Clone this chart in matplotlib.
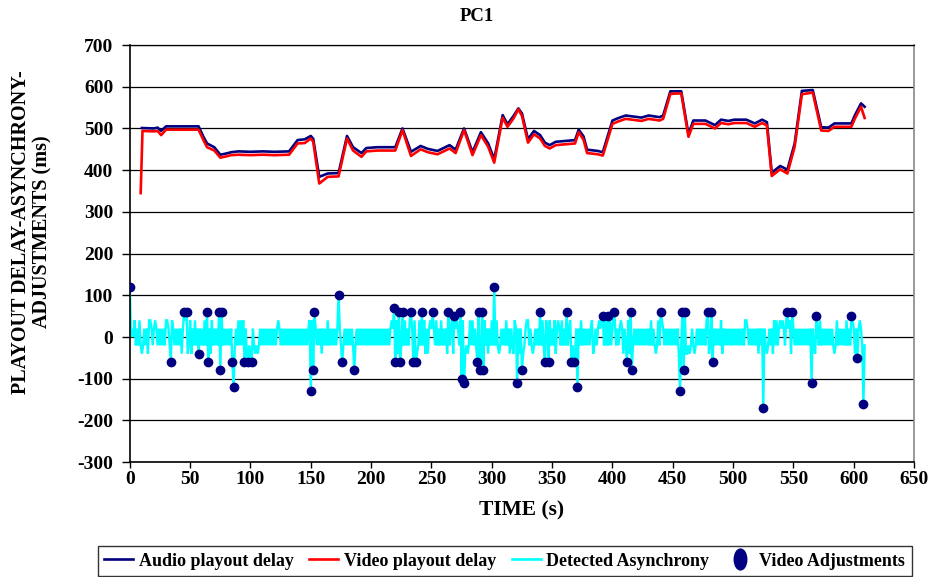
import numpy as np
import matplotlib
matplotlib.use("Agg")
import matplotlib.pyplot as plt
from matplotlib.lines import Line2D
from matplotlib.path import Path
from matplotlib.transforms import Affine2D

plt.rcParams['font.family'] = ['Liberation Serif', 'DejaVu Serif']
plt.rcParams['font.weight'] = 'bold'
plt.rcParams['axes.labelweight'] = 'bold'
plt.rcParams['axes.unicode_minus'] = False

# playout delay of the audio stream (s, ms)
audio_t = [10, 20, 23, 26, 30, 57, 61, 64, 70, 75, 80, 84, 90, 100, 110, 120, 132,
           139, 145, 150, 152, 157, 164, 173, 180, 185, 192, 196, 205, 220, 226, 233,
           241, 247, 255, 265, 270, 277, 284, 291, 297, 302, 309, 313, 318, 322, 325,
           330, 335, 340, 344, 348, 353, 369, 372, 376, 379, 388, 392, 400, 405, 411,
           424, 430, 439, 442, 448, 457, 463, 467, 477, 485, 490, 496, 501, 511, 518,
           524, 528, 532, 539, 545, 551, 557, 566, 573, 579, 584, 598, 601, 606, 609]
audio_ms = [501, 500, 502, 494, 505, 505, 480, 464, 455, 437, 440, 443, 445, 444, 445, 444, 445,
            472, 474, 482, 475, 384, 392, 393, 482, 455, 441, 453, 455, 455, 500, 444,
            458, 451, 446, 460, 449, 500, 443, 491, 464, 426, 532, 510, 530, 548, 536,
            474, 494, 484, 466, 460, 468, 472, 497, 481, 449, 446, 443, 519, 525, 531,
            526, 531, 527, 531, 589, 589, 486, 519, 519, 508, 521, 518, 521, 521, 512,
            521, 515, 394, 410, 401, 464, 590, 592, 503, 502, 512, 512, 532, 560, 552]

# playout delay of the video stream (s, ms)
video_t = [9, 10.5, 20, 23, 26, 30, 57, 61, 64, 70, 75, 80, 84, 90, 100, 110, 120, 132,
           139, 145, 150, 152, 157, 164, 173, 180, 185, 192, 196, 205, 220, 226, 233,
           241, 247, 255, 265, 270, 277, 284, 291, 297, 302, 309, 313, 318, 322, 325,
           330, 335, 340, 344, 348, 353, 369, 372, 376, 379, 388, 392, 400, 405, 411,
           424, 430, 439, 442, 448, 457, 463, 467, 477, 485, 490, 496, 501, 511, 518,
           524, 528, 532, 539, 545, 551, 557, 566, 573, 579, 584, 598, 601, 606, 609]
video_ms = [345, 494, 493, 494, 484, 497, 497, 472, 455, 447, 430, 433, 436, 437, 436, 437, 436, 437,
            464, 465, 476, 468, 368, 384, 385, 476, 447, 432, 445, 447, 447, 496, 434,
            450, 443, 438, 452, 441, 496, 436, 484, 456, 418, 526, 504, 524, 546, 530,
            466, 486, 476, 458, 452, 460, 464, 491, 473, 441, 438, 435, 511, 517, 523,
            518, 523, 519, 523, 583, 584, 480, 511, 511, 500, 513, 510, 513, 513, 504,
            513, 507, 386, 402, 392, 456, 582, 586, 495, 494, 504, 504, 524, 552, 525]

# detected asynchrony, one sample per second:
# '+' = 20, '-' = -20, 'P' = 40, 'N' = -40, '0' = 0
async_codes = (
    "+0+0P-+-P- N-+-+NPP+- +P+-+-+-+- PP+-+P+-+- +-+N+-P-N-"
    "PN+-P-+-+- +-P-+-+NP- +-+-+-+-+- +-+-+-+-+- P-P-P-+NP-"
    "N-+-N-N-+- +-+-+-+-+- +-+P+-+-+- +-+-+-+-+- +-+-+-+-+P"
    "+P+-+-+-+N +-+-P-+-+- +-+-+-+-+- +-+-+-P-+- +-+-+-+-+-"
    "+-+-+-+-+- +-+-+-+P+- NPN-+-+-P- +-PN+-P-N- P-+-PN+N+P"
    "+-+-P-+-P- +-+NP-+PN- +P+-+-P-N- N-P-P-+-+- PN+NP-+N+-"
    "P-+-P-N-+- +-P-+N+-NP +-+N+PN-+P P-+-N-+-+- P-P-NP+NP-"
    "+-PN+P+-P- +-P-+PN-+N +-+-P-+-+- +-+PN-+-+P +P+-P-+-P-"
    "+-P-+-+P+N +-NPN-P-+- +-+-+-+-+- +-P-+-N-P- +P+-+-+-+-"
    "+-+-+NP-P- PNN-N-+-N- +-+-+-+-PP N-PN+-+-+- PN+-+-+-+-"
    "+-+-+-+-+- PP+-+-+-+- +N+-+P+-N- +-+NP-P-+P +P+-PN+PN-"
    "+-+-+-+-+- +-+-+-+-NP +-P-+-+-+- +-+-N-P-+- +-+-P-+-+P"
    "+N+-+P+-+-"
)
code_levels = {'+': 20, '-': -20, 'P': 40, 'N': -40, '0': 0}

# video adjustments (s, ms)
adjust_t = [0, 34, 45, 47, 57, 64, 65, 74, 75, 76, 85, 86, 95, 98, 101,
            150, 152, 153, 173, 176, 186, 219, 220, 223, 224, 226, 233, 235, 237,
            242, 251, 264, 269, 274, 275, 277, 288, 289, 290, 292, 293, 302,
            321, 325, 340, 344, 347, 362, 366, 368, 371, 392, 396, 401, 412, 415,
            416, 440, 456, 458, 459, 460, 479, 482, 483, 525, 545, 549, 565, 569,
            598, 603, 608]
adjust_ms = [120, -60, 60, 60, -40, 60, -60, 60, -80, 60, -60, -120, -60, -60, -60,
             -130, -80, 60, 100, -60, -80, 70, -60, 60, -60, 60, 60, -60, -60,
             60, 60, 60, 50, 60, -100, -110, -60, 60, -80, 60, -80, 120,
             -110, -80, 60, -60, -60, 60, -60, -60, -120, 50, 50, 60, -60, 60,
             -80, 60, -130, 60, -80, 60, 60, 60, -60, -170, 60, 60, -110, 50,
             50, -50, -160]

async_ms = np.array([code_levels[c] for c in async_codes if c != ' '], dtype=float)
async_t = np.arange(len(async_ms))
# the asynchrony reaches the adjustment value where the video was adjusted
for t, v in zip(adjust_t, adjust_ms):
    async_ms[t] = v

navy = '#000080'

fig = plt.figure(figsize=(9.34, 5.77), dpi=100)
ax = fig.add_axes([0.139, 0.199, 0.8397, 0.723])

ax.plot(audio_t, audio_ms, color=navy, lw=1.9, zorder=3)
ax.plot(video_t, video_ms, color='#ff0000', lw=1.9, zorder=4)
ax.plot(async_t, async_ms, color='#00ffff', lw=1.7, zorder=2, solid_joinstyle='miter')
ax.plot(adjust_t, adjust_ms, ls='none', marker='o', ms=6, color=navy, zorder=5)

ax.set_xlim(0, 650)
ax.set_ylim(-300, 700)
ax.set_xticks(range(0, 651, 50))
ax.set_yticks(range(-300, 701, 100))
ax.yaxis.grid(True, color='black', lw=0.9)
ax.set_axisbelow(True)
ax.tick_params(axis='y', direction='out', length=6, width=1, labelsize=14, pad=6)
ax.tick_params(axis='x', direction='out', length=4, width=1, labelsize=14, pad=2)
for lab in ax.get_xticklabels() + ax.get_yticklabels():
    lab.set_fontweight('bold')
for s in ['left', 'bottom']:
    ax.spines[s].set_color('black')
    ax.spines[s].set_linewidth(1.2)
ax.spines['right'].set_color('#888888')
ax.spines['right'].set_linewidth(1.2)
ax.spines['top'].set_color('black')
ax.spines['top'].set_linewidth(0.9)

ax.set_xlabel('TIME (s)', fontsize=15.5, fontweight='bold', labelpad=9)
fig.text(0.51, 0.972, 'PC1', ha='center', va='center', fontsize=13.5, fontweight='bold')
fig.text(0.034, 0.598, 'PLAYOUT DELAY-ASYNCHRONY-\nADJUSTMENTS (ms)', rotation=90,
         ha='center', va='center', fontsize=14.5, fontweight='bold', linespacing=1.1)

ellipse = Path.unit_circle().transformed(Affine2D().scale(0.6, 1.0))
handles = [
    Line2D([], [], color=navy, lw=1.9),
    Line2D([], [], color='#ff0000', lw=1.9),
    Line2D([], [], color='#00ffff', lw=1.9),
    Line2D([], [], ls='none', marker=ellipse, ms=15, color=navy),
]
labels = ['Audio playout delay', 'Video playout delay', 'Detected Asynchrony',
          'Video Adjustments']
leg = fig.legend(handles, labels, loc='lower left', ncol=4, mode='expand',
                 bbox_to_anchor=(0.105, 0.002, 0.871, 0.062),
                 prop={'size': 13, 'weight': 'bold'},
                 frameon=True, fancybox=False, edgecolor='black', borderaxespad=0,
                 handlelength=1.6, handletextpad=0.3, columnspacing=0.6,
                 borderpad=0.35)
leg.get_frame().set_linewidth(1.0)

fig.savefig('out.png', dpi=100)
